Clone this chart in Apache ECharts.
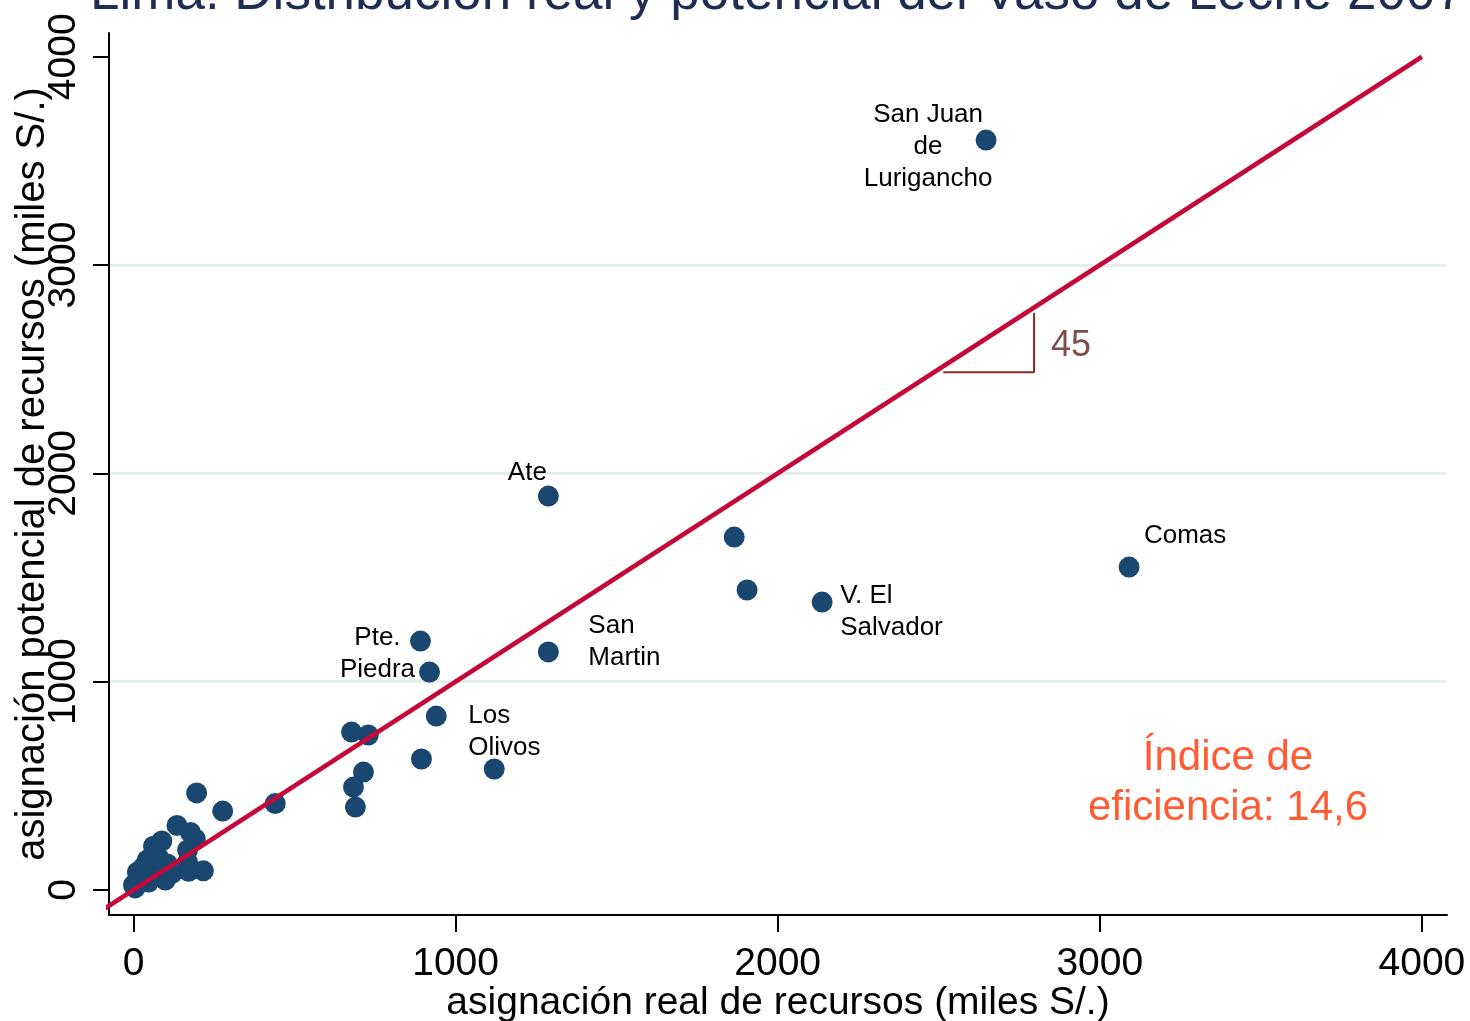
<!DOCTYPE html>
<html>
<head>
<meta charset="utf-8">
<script src="https://cdn.jsdelivr.net/npm/echarts@6/dist/echarts.min.js"></script>
<style>
  html, body { margin: 0; padding: 0; background: #fff; }
  #main { width: 1470px; height: 1021px; }
</style>
</head>
<body>
<div id="main"></div>
<script>
// asignación real (x) y potencial (y), miles S/.
const realAlloc = [
  2647, 3091, 2138, 1905, 1865, 1288, 1288, 1120, 940, 894,
  891, 919, 714, 683, 689, 677, 729, 440, 277, 196,
  135, 177, 192, 88, 62, 168, 168, 43, 105, 217,
  171, 12, 99, 47, 0, 5, 25, 70, 30, 60,
  120, 10, 80
]
const potAlloc = [
  3600, 1550, 1382, 1440, 1694, 1891, 1143, 581, 835, 629,
  1195, 1046, 566, 494, 398, 758, 744, 415, 379, 466,
  310, 276, 245, 235, 210, 192, 134, 144, 125, 92,
  90, 86, 48, 38, 24, 10, 60, 100, 110, 70,
  80, 40, 150
]
const districtNames = [
  'San Juan\nde\nLurigancho', 'Comas', 'V. El\nSalvador', '', '', 'Ate', 'San\nMartin', '', 'Los\nOlivos', '',
  'Pte.\nPiedra'
]
const xTicks = [0, 1000, 2000, 3000, 4000]
const yTicks = [0, 1000, 2000, 3000, 4000]
const diagonal = [[-120, -120], [4000, 4000]]
const angleMark = [[2514, 2485], [2796, 2485], [2796, 2771]]
const angleText = [[2911, 2611]]
const indexText = [[3398, 514]]

const FONT = 'Liberation Sans, Arial, Helvetica, sans-serif'

// dónde va cada etiqueta respecto a su punto
const labelPlace = {
  'San Juan\nde\nLurigancho': { offset: [-58, 7], align: 'center' },
  Comas: { offset: [56, -31], align: 'center' },
  'V. El\nSalvador': { offset: [18, 10], align: 'left' },
  Ate: { offset: [-21, -23], align: 'center' },
  'San\nMartin': { offset: [40, -10], align: 'left' },
  'Los\nOlivos': { offset: [32, 16], align: 'left' },
  'Pte.\nPiedra': { offset: [-43, 13], align: 'center' },
}

const points = realAlloc.map((x, i) => {
  const name = districtNames[i] || ''
  const item = { value: [x, potAlloc[i]] }
  if (name) {
    const p = labelPlace[name]
    item.label = {
      show: true,
      formatter: name,
      position: 'inside',
      offset: p.offset,
      align: p.align,
      verticalAlign: 'middle',
      fontSize: 26,
      lineHeight: 32,
      color: '#000',
      fontFamily: FONT,
    }
  }
  return item
})

const chart = echarts.init(document.getElementById('main'), null, { renderer: 'canvas' })

chart.setOption({
  animation: false,
  title: {
    text: 'Lima: Distribución real y potencial del Vaso de Leche 2007',
    left: 85,
    top: -37,
    textStyle: { fontSize: 53, lineHeight: 53, fontWeight: 'normal', color: '#1e2d52', fontFamily: FONT },
  },
  grid: { left: 109, right: 23, top: 33, bottom: 106, outerBoundsMode: 'none', containLabel: false },
  xAxis: {
    type: 'value',
    min: -76,
    max: 4078,
    splitNumber: 4,
    name: 'asignación real de recursos (miles S/.)',
    nameLocation: 'middle',
    nameGap: 69,
    nameMoveOverlap: false,
    nameTextStyle: { fontSize: 39, color: '#000', fontFamily: FONT },
    axisLine: { show: true, onZero: false, lineStyle: { color: '#000', width: 2 } },
    axisTick: { show: true, length: 17, customValues: xTicks, lineStyle: { color: '#000', width: 2 } },
    axisLabel: {
      fontSize: 39, color: '#000', margin: 30, fontFamily: FONT, customValues: xTicks,
      formatter: (v) => String(v),
    },
    splitLine: { show: false },
  },
  yAxis: {
    type: 'value',
    min: -120,
    max: 4114,
    splitNumber: 4,
    name: 'asignación potencial de recursos (miles S/.)',
    nameLocation: 'middle',
    nameGap: 56,
    nameMoveOverlap: false,
    nameTextStyle: { fontSize: 40, color: '#000', fontFamily: FONT },
    axisLine: { show: true, onZero: false, lineStyle: { color: '#000', width: 2 } },
    axisTick: { show: true, length: 16, customValues: yTicks, lineStyle: { color: '#000', width: 2 } },
    axisLabel: {
      fontSize: 39, color: '#000', rotate: 90, margin: 25, fontFamily: FONT, customValues: yTicks,
      formatter: (v) => String(v),
    },
    splitLine: {
      show: true,
      showMinLine: false,
      showMaxLine: false,
      lineStyle: { color: '#e6eff0', width: 3 },
    },
  },
  series: [
    {
      type: 'scatter',
      symbol: 'circle',
      symbolSize: 21,
      itemStyle: { color: '#1a476f', opacity: 1 },
      data: points,
    },
    {
      type: 'line',
      data: diagonal,
      symbol: 'none',
      clip: true,
      lineStyle: { color: '#c4093a', width: 4.5 },
    },
    {
      type: 'line',
      data: angleMark,
      symbol: 'none',
      lineStyle: { color: '#8b2a2a', width: 2 },
    },
    {
      type: 'scatter',
      symbolSize: 0,
      data: angleText,
      label: {
        show: true,
        position: 'inside',
        formatter: '45',
        fontSize: 36,
        color: '#5e1f1f',
        fontFamily: FONT,
      },
    },
    {
      type: 'scatter',
      symbolSize: 0,
      data: indexText,
      label: {
        show: true,
        position: 'inside',
        formatter: 'Índice de\neficiencia: 14,6',
        fontSize: 42,
        lineHeight: 50,
        align: 'center',
        color: '#ff3300',
        fontFamily: FONT,
      },
    },
  ],
})
</script>
</body>
</html>
